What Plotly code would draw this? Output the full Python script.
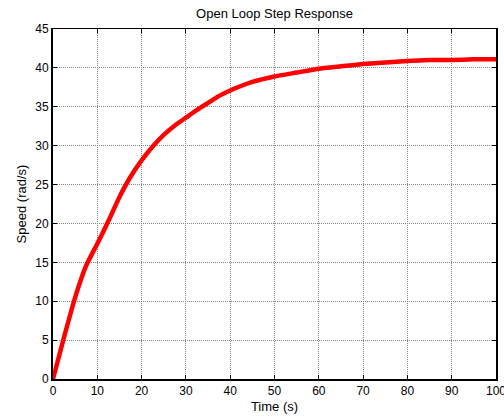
import plotly.graph_objects as go

# Data
time_s = [0, 2.5, 5, 7.5, 10, 12.5, 15, 17.5, 20, 22.5, 25, 27.5, 30, 32.5, 35, 37.5, 40,
          45, 50, 55, 60, 65, 70, 75, 80, 85, 90, 95, 100]
speed = [0, 5.4, 10.5, 14.6, 17.4, 20.3, 23.4, 26.0, 28.1, 29.9, 31.4, 32.6, 33.6, 34.6, 35.5,
         36.4, 37.1, 38.2, 38.9, 39.4, 39.9, 40.2, 40.5, 40.7, 40.9, 41.0, 41.0, 41.1, 41.1]

x_ticks = [0, 10, 20, 30, 40, 50, 60, 70, 80, 90, 100]
y_ticks = [0, 5, 10, 15, 20, 25, 30, 35, 40, 45]

title_text = "Open Loop Step Response"
x_title = "Time (s)"
y_title = "Speed (rad/s)"

FONT = "Liberation Sans, Arial, sans-serif"

fig = go.Figure()
fig.add_trace(go.Scatter(x=time_s, y=speed, mode="lines",
                         line=dict(color="#ff0000", width=4.5, shape="spline", smoothing=0.4),
                         showlegend=False))
# invisible trace on top axis to activate it
fig.add_trace(go.Scatter(x=[0], y=[0], xaxis="x2", yaxis="y", mode="markers",
                         marker=dict(opacity=0), showlegend=False, hoverinfo="skip"))

axis_common = dict(
    ticks="inside", ticklen=4, tickcolor="black", tickwidth=1,
    showgrid=True, gridcolor="#858585", griddash="1px,1px", gridwidth=1,
    zeroline=False, showline=True, linecolor="black",
    tickfont=dict(family=FONT, size=12, color="black"),
    ticklabeloverflow="allow", automargin=False,
)

fig.update_layout(
    width=504, height=417,
    margin=dict(l=53, r=8, t=29, b=38),
    paper_bgcolor="white", plot_bgcolor="white",
    title=dict(text=title_text, x=274.5 / 504, xanchor="center",
               y=1 - 13 / 417, yanchor="middle",
               font=dict(family=FONT, size=13, color="black")),
    xaxis=dict(range=[0, 100], tickvals=x_ticks, linewidth=2,
               title=dict(text=x_title, standoff=4, font=dict(family=FONT, size=13, color="black")),
               **axis_common),
    xaxis2=dict(range=[0, 100], overlaying="x", side="top", tickvals=x_ticks,
                showticklabels=False, ticks="inside", ticklen=4, tickcolor="black",
                showgrid=False, zeroline=False, showline=True, linecolor="black", linewidth=1,
                automargin=False),
    yaxis=dict(range=[0, 45], tickvals=y_ticks, linewidth=2, mirror="ticks",
               title=dict(text=y_title, standoff=6, font=dict(family=FONT, size=13, color="black")),
               **axis_common),
)

fig.write_html("out.html")
